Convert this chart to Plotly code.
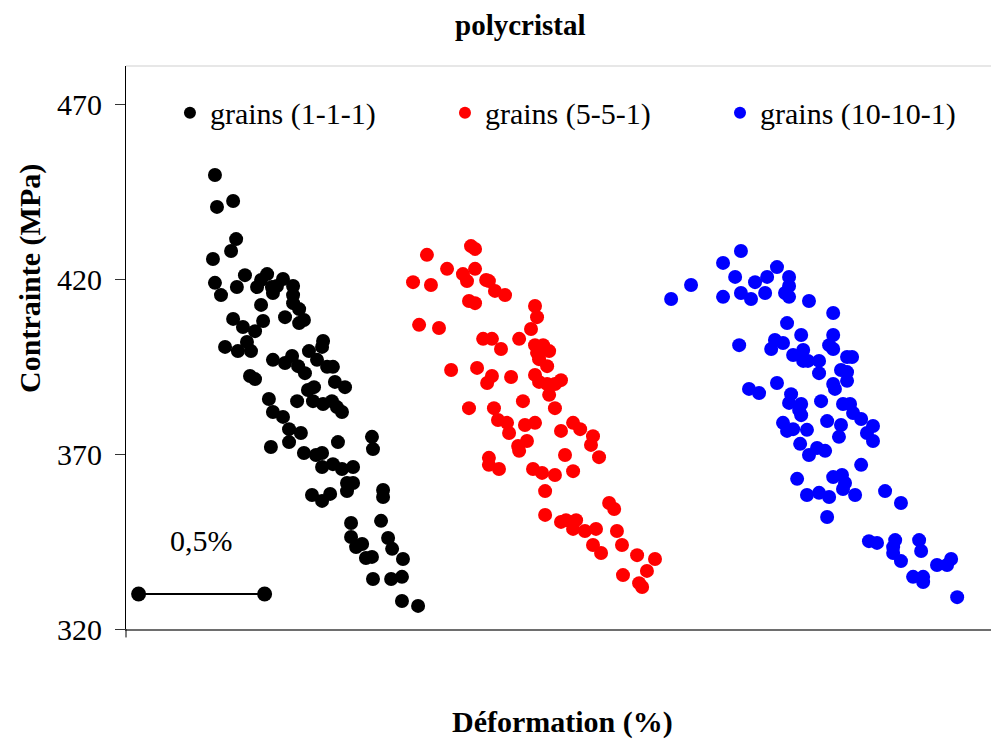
import plotly.graph_objects as go

# Deformation (%) and stress (MPa)
black_x = [0.353, 0.361, 0.425, 0.437, 0.417, 0.345, 0.353, 0.377, 0.440, 0.472,
           0.520, 0.536, 0.560, 0.579, 0.583, 0.599, 0.623, 0.663, 0.663, 0.663,
           0.687, 0.536, 0.425, 0.464, 0.512, 0.544, 0.631, 0.687, 0.706, 0.782,
           0.778, 0.393, 0.444, 0.480, 0.496, 0.726, 0.583, 0.659, 0.758, 0.631,
           0.683, 0.710, 0.798, 0.821, 0.492, 0.512, 0.829, 0.869, 0.722, 0.746,
           0.567, 0.679, 0.742, 0.782, 0.817, 0.837, 0.857, 0.583, 0.623, 0.647,
           0.694, 0.575, 0.647, 0.706, 0.754, 0.778, 0.841, 0.976, 0.980, 0.778,
           0.821, 0.857, 0.901, 0.877, 0.901, 0.877, 0.738, 0.778, 0.810, 1.020,
           1.020, 0.893, 0.893, 0.937, 0.913, 0.952, 0.976, 1.012, 1.040, 1.056,
           1.099, 0.980, 1.052, 1.095, 1.095, 1.159]
black_y = [449.7, 440.6, 442.3, 431.4, 428.0, 425.7, 418.9, 415.4, 417.7, 421.1,
           417.7, 419.7, 421.4, 417.7, 416.0, 418.0, 420.0, 418.0, 415.4, 413.1,
           411.4, 412.6, 408.6, 406.3, 405.1, 408.0, 409.1, 407.4, 408.3, 402.3,
           400.6, 400.6, 399.4, 402.0, 399.4, 399.4, 396.9, 398.0, 396.9, 396.0,
           395.1, 393.1, 394.9, 394.9, 392.3, 391.4, 390.6, 389.1, 388.3, 389.1,
           385.7, 385.1, 385.1, 384.3, 385.1, 383.4, 382.0, 382.0, 380.6, 377.1,
           376.0, 372.0, 373.4, 370.3, 369.7, 370.3, 373.4, 374.9, 371.4, 366.3,
           367.1, 365.7, 366.3, 361.7, 361.7, 359.4, 358.3, 356.6, 358.6, 359.7,
           357.7, 350.3, 346.3, 344.3, 343.4, 340.3, 340.6, 350.9, 346.0, 342.9,
           340.0, 334.3, 334.3, 334.9, 328.0, 326.6]

red_x = [1.369, 1.385, 1.194, 1.274, 1.385, 1.337, 1.353, 1.429, 1.440, 1.464,
         1.504, 1.139, 1.210, 1.361, 1.385, 1.623, 1.631, 1.163, 1.242, 1.607,
         1.417, 1.452, 1.560, 1.488, 1.623, 1.655, 1.631, 1.679, 1.639, 1.671,
         1.290, 1.393, 1.452, 1.433, 1.528, 1.623, 1.639, 1.671, 1.702, 1.726,
         1.679, 1.361, 1.460, 1.575, 1.702, 1.476, 1.512, 1.583, 1.623, 1.520,
         1.591, 1.556, 1.560, 1.726, 1.774, 1.802, 1.853, 1.845, 1.877, 1.742,
         1.440, 1.440, 1.480, 1.615, 1.651, 1.702, 1.774, 1.663, 1.663, 1.726,
         1.746, 1.786, 1.774, 1.821, 1.865, 1.917, 1.937, 1.948, 1.853, 1.885,
         1.968, 2.028, 2.099, 1.972, 2.067, 2.036, 2.048]
red_y = [429.4, 428.6, 426.9, 422.9, 422.9, 421.4, 419.4, 419.7, 419.4, 416.6,
         415.4, 419.1, 418.3, 413.7, 413.1, 412.3, 409.1, 406.9, 406.0, 405.7,
         402.9, 402.9, 402.9, 400.0, 401.1, 401.1, 398.9, 399.4, 397.1, 395.1,
         394.0, 394.6, 392.3, 390.3, 392.0, 392.6, 390.6, 390.0, 390.0, 391.1,
         386.9, 383.1, 383.1, 385.1, 383.1, 379.7, 378.9, 378.3, 378.9, 376.0,
         373.7, 372.3, 370.9, 376.6, 378.9, 377.1, 375.1, 372.6, 369.1, 369.7,
         368.9, 366.9, 365.7, 365.7, 364.6, 364.0, 365.1, 359.4, 352.6, 350.6,
         351.1, 351.1, 348.6, 348.0, 348.6, 356.0, 354.3, 348.0, 344.0, 341.7,
         344.0, 341.1, 340.0, 335.4, 336.6, 333.1, 332.0]

blue_x = [2.163, 2.242, 2.440, 2.369, 2.417, 2.369, 2.440, 2.480, 2.496, 2.536,
          2.544, 2.583, 2.631, 2.631, 2.615, 2.631, 2.710, 2.806, 2.623, 2.433,
          2.575, 2.607, 2.560, 2.679, 2.806, 2.790, 2.806, 2.687, 2.647, 2.687,
          2.706, 2.750, 2.750, 2.861, 2.881, 2.837, 2.861, 2.861, 2.806, 2.813,
          2.472, 2.512, 2.583, 2.639, 2.631, 2.679, 2.671, 2.679, 2.758, 2.845,
          2.873, 2.885, 2.917, 2.782, 2.837, 2.964, 2.607, 2.647, 2.702, 2.623,
          2.829, 2.940, 2.964, 2.675, 2.742, 2.774, 2.710, 2.917, 2.663, 2.806,
          2.841, 2.853, 2.845, 2.893, 2.702, 2.750, 2.790, 3.012, 3.075, 2.782,
          2.948, 2.980, 3.052, 3.044, 3.044, 3.147, 3.155, 3.075, 3.218, 3.258,
          3.274, 3.123, 3.163, 3.163, 3.298]
blue_y = [414.3, 418.3, 428.0, 424.6, 420.6, 414.9, 416.0, 414.3, 419.1, 416.0,
          420.6, 423.4, 420.6, 418.0, 416.0, 414.9, 413.7, 410.3, 407.4, 401.1,
          402.6, 401.7, 400.0, 404.0, 404.0, 401.1, 400.0, 399.7, 398.3, 396.6,
          396.6, 396.6, 393.1, 397.7, 397.7, 394.0, 393.4, 390.9, 390.0, 388.6,
          388.6, 387.4, 390.3, 387.1, 384.6, 384.3, 382.6, 381.1, 385.1, 384.3,
          384.3, 381.7, 380.0, 379.4, 378.3, 378.0, 378.9, 377.1, 376.9, 376.6,
          374.9, 376.0, 373.7, 372.9, 371.7, 370.9, 369.7, 366.9, 362.9, 363.4,
          364.0, 361.7, 360.0, 358.3, 358.3, 358.9, 357.7, 359.4, 356.0, 352.0,
          345.1, 344.6, 345.4, 343.4, 341.7, 345.4, 342.3, 339.4, 338.3, 338.3,
          340.0, 334.9, 334.9, 333.4, 329.1]

series_names = ['grains (1-1-1)', 'grains (5-5-1)', 'grains (10-10-1)']
series_colors = ['#000000', '#ff0000', '#0000ff']

# 0,5% scale bar
scale_x = [0.05, 0.55]
scale_y = [330, 330]
y_ticks = [320, 370, 420, 470]

FONT = 'Liberation Serif'

fig = go.Figure()

# one legend per series so each entry sits where the original puts it
legend_ids = ['legend', 'legend2', 'legend3']
legend_x = [0.0504, 0.3658, 0.6812]

for xs, ys, name, color, lg in zip([black_x, red_x, blue_x], [black_y, red_y, blue_y],
                                   series_names, series_colors, legend_ids):
    fig.add_trace(go.Scatter(
        x=xs, y=ys, mode='markers', name=name, legend=lg,
        marker=dict(size=14, color=color, line=dict(width=0))
    ))

fig.add_trace(go.Scatter(
    x=scale_x, y=scale_y, mode='lines+markers', showlegend=False,
    line=dict(color='black', width=2),
    marker=dict(size=15, color='black')
))

fig.add_annotation(x=0.30, y=345.4, text='0,5%', showarrow=False,
                   font=dict(family=FONT, size=30, color='black'))

# titles
fig.add_annotation(xref='paper', yref='paper', x=0.452, y=1.0728, text='<b>polycristal</b>',
                   showarrow=False, yanchor='middle',
                   font=dict(family=FONT, size=29, color='black'))
fig.add_annotation(xref='paper', yref='paper', x=0.5, y=-0.165, text='<b>Déformation (%)</b>',
                   showarrow=False, yanchor='middle',
                   font=dict(family=FONT, size=30, color='black'))
fig.add_annotation(xref='paper', yref='paper', x=-0.110, y=0.622, text='<b>Contrainte (MPa)</b>',
                   showarrow=False, textangle=-90, xanchor='center', yanchor='middle',
                   font=dict(family=FONT, size=30, color='black'))

# light frame on top and right, y axis line running a little below the x axis
fig.add_shape(type='line', xref='paper', yref='paper', x0=0, x1=1, y0=1, y1=1,
              line=dict(color='#cfcfcf', width=1))
fig.add_shape(type='line', xref='paper', yref='paper', x0=1, x1=1, y0=0, y1=1,
              line=dict(color='#cfcfcf', width=1))
fig.add_shape(type='line', xref='paper', yref='paper', x0=0, x1=0, y0=-0.015, y1=0,
              line=dict(color='black', width=1))

fig.update_xaxes(range=[0, 3.46], showticklabels=False, ticks='', showgrid=False,
                 zeroline=False, showline=True, linecolor='#6e6e6e', linewidth=2)
fig.update_yaxes(range=[320, 480.86], tickvals=y_ticks, ticks='outside', ticklen=10,
                 tickcolor='#333333', showgrid=False, zeroline=False, showline=True,
                 linecolor='black', linewidth=1, ticklabelstandoff=7,
                 tickfont=dict(family=FONT, size=30, color='black'))

legend_style = dict(orientation='h', y=0.917, xanchor='left', yanchor='middle',
                    itemsizing='constant', bgcolor='rgba(0,0,0,0)',
                    font=dict(family=FONT, size=30, color='black'))

# page body has an 8px margin, so the figure is 8px smaller each way
fig.update_layout(
    width=991, height=732,
    margin=dict(l=118, r=1, t=58, b=111),
    plot_bgcolor='white', paper_bgcolor='white',
    font=dict(family=FONT, size=30, color='black'),
    legend=dict(x=legend_x[0], **legend_style),
    legend2=dict(x=legend_x[1], **legend_style),
    legend3=dict(x=legend_x[2], **legend_style),
)

fig.write_html("out.html")
